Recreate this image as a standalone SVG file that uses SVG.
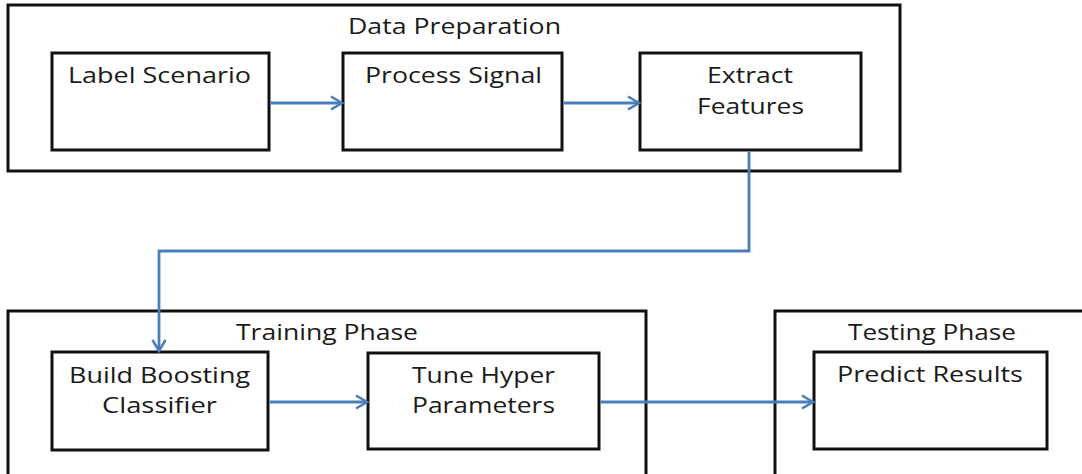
<svg xmlns="http://www.w3.org/2000/svg" width="1082" height="474" viewBox="0 0 1082 474">
  <style>
    .frame { fill: #ffffff; stroke: #111111; stroke-width: 3; }
    .box { fill: #ffffff; stroke: #111111; stroke-width: 3; }
    .label { font-family: "Open Sans", "DejaVu Sans", sans-serif; font-size: 21px; font-weight: 500; fill: #1a1a1a; text-anchor: middle; }
    .link { fill: none; stroke: #4a7ebb; stroke-width: 2.8; marker-end: url(#arrow); }
  </style>
  <defs>
    <marker id="arrow" markerUnits="userSpaceOnUse" markerWidth="16" markerHeight="16" viewBox="0 0 16 16" refX="13" refY="8" orient="auto">
      <path d="M2,1.5 L13,8 L2,14.5" fill="none" stroke="#4a7ebb" stroke-width="2.6"/>
    </marker>
  </defs>

  <rect width="1082" height="474" fill="#ffffff"/>

  <!-- Phase frames -->
  <g id="data-preparation">
    <rect class="frame" x="8" y="5" width="892" height="166"/>
    <text class="label" x="454.5" y="34" textLength="213" lengthAdjust="spacingAndGlyphs">Data Preparation</text>
  </g>
  <g id="training-phase">
    <rect class="frame" x="8" y="311" width="638" height="180"/>
    <text class="label" x="327" y="340" textLength="182" lengthAdjust="spacingAndGlyphs">Training Phase</text>
  </g>
  <g id="testing-phase">
    <rect class="frame" x="775" y="311" width="320" height="180"/>
    <text class="label" x="932" y="340" textLength="168" lengthAdjust="spacingAndGlyphs">Testing Phase</text>
  </g>

  <!-- Steps -->
  <g id="label-scenario">
    <rect class="box" x="52" y="53" width="217" height="97"/>
    <text class="label" x="159.5" y="83" textLength="183" lengthAdjust="spacingAndGlyphs">Label Scenario</text>
  </g>
  <g id="process-signal">
    <rect class="box" x="343" y="53" width="219" height="97"/>
    <text class="label" x="453.5" y="83" textLength="177" lengthAdjust="spacingAndGlyphs">Process Signal</text>
  </g>
  <g id="extract-features">
    <rect class="box" x="640" y="53" width="221" height="97"/>
    <text class="label" x="750" y="83" textLength="86" lengthAdjust="spacingAndGlyphs">Extract</text>
    <text class="label" x="750.5" y="114" textLength="107" lengthAdjust="spacingAndGlyphs">Features</text>
  </g>
  <g id="build-boosting-classifier">
    <rect class="box" x="52" y="352" width="216" height="98"/>
    <text class="label" x="159.5" y="383" textLength="181" lengthAdjust="spacingAndGlyphs">Build Boosting</text>
    <text class="label" x="159.5" y="413" textLength="115" lengthAdjust="spacingAndGlyphs">Classifier</text>
  </g>
  <g id="tune-hyper-parameters">
    <rect class="box" x="368" y="353" width="231" height="96"/>
    <text class="label" x="483.5" y="383" textLength="143" lengthAdjust="spacingAndGlyphs">Tune Hyper</text>
    <text class="label" x="483.5" y="413" textLength="143" lengthAdjust="spacingAndGlyphs">Parameters</text>
  </g>
  <g id="predict-results">
    <rect class="box" x="814" y="352" width="233" height="97"/>
    <text class="label" x="930" y="382" textLength="186" lengthAdjust="spacingAndGlyphs">Predict Results</text>
  </g>

  <!-- Connectors -->
  <g id="connectors">
    <path class="link" d="M270.5,103 L342,103"/>
    <path class="link" d="M563.5,103 L639,103"/>
    <path class="link" d="M749,151.5 L749,251 L159,251 L159,351"/>
    <path class="link" d="M269.5,402 L367,402"/>
    <path class="link" d="M600.5,402 L813,402"/>
  </g>
</svg>
